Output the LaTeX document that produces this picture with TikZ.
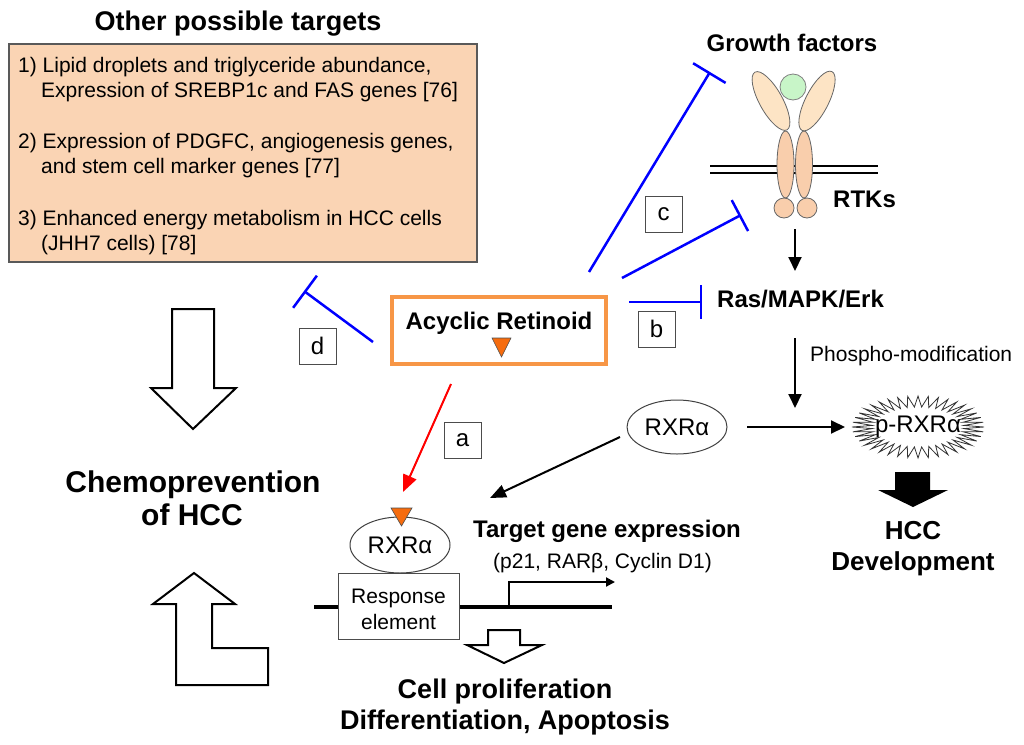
\documentclass[tikz,border=0pt]{standalone}
\usepackage{fontspec}
\setmainfont{Liberation Sans}
\usetikzlibrary{arrows.meta,shapes.geometric}
\definecolor{peach}{RGB}{250,212,180}
\definecolor{ringorange}{RGB}{247,150,70}
\definecolor{triorange}{RGB}{246,108,14}
\definecolor{rtkup}{RGB}{253,228,197}
\definecolor{rtklow}{RGB}{249,206,172}
\definecolor{gfgreen}{RGB}{200,245,200}
\definecolor{bline}{RGB}{0,0,255}
\tikzset{
  rt/.style={font=\fontsize{#1}{#1}\selectfont, inner sep=0pt},
  bt/.style={font=\fontsize{#1}{#1}\selectfont\bfseries, inner sep=0pt},
  inh/.style={draw=bline, line width=2.5pt, -{Bar[width=#1,line width=2.5pt]}},
  arr/.style={draw=black, line width=2pt, -{Triangle[length=14pt,width=13pt]}},
  redarr/.style={draw=red, line width=2pt, -{Triangle[length=17pt,width=14pt]}},
  lab/.style={draw=gray!60!black, fill=white, line width=1pt, minimum width=37pt, minimum height=36pt, inner sep=0pt, font=\fontsize{24}{24}\selectfont},
  hollow/.style={draw=black, line width=2pt, fill=white, line join=miter},
  oval/.style={draw=black!75, line width=1pt, ellipse, inner sep=0pt, font=\fontsize{24}{24}\selectfont},
  tri/.style={fill=triorange, draw=black!70, line width=0.6pt},
  rtk/.style={draw=black!60, line width=0.8pt, ellipse, inner sep=0pt},
}
\begin{document}
\begin{tikzpicture}[x=1pt,y=-1pt]
\useasboundingbox (0,0) rectangle (1024,744);

% ---- other possible targets
\node[bt=27, anchor=base] (opt) at (238,30) {Other possible targets};
\node[draw=black!65, line width=1.2pt, fill=peach, minimum width=468pt, minimum height=218pt, inner sep=0pt] (obox) at (243,153) {};
\node[rt=21, anchor=base west] (o1) at (18,72) {1) Lipid droplets and triglyceride abundance,};
\node[rt=21, anchor=base west] (o2) at (41,97) {Expression of SREBP1c and FAS genes [76]};
\node[rt=21, anchor=base west] (o3) at (18,148) {2) Expression of PDGFC, angiogenesis genes,};
\node[rt=21, anchor=base west] (o4) at (41,173) {and stem cell marker genes [77]};
\node[rt=21, anchor=base west] (o5) at (18,225) {3) Enhanced energy metabolism in HCC cells};
\node[rt=21, anchor=base west] (o6) at (41,250) {(JHH7 cells) [78]};

% ---- receptor
\draw[line width=2pt] (710,166) -- (878,166) (710,173) -- (878,173);
\node[rtk, fill=rtklow, minimum width=17pt, minimum height=67pt] (low1) at (785.5,164.5) {};
\node[rtk, fill=rtklow, minimum width=17pt, minimum height=67pt] (low2) at (804,164.5) {};
\node[rtk, fill=rtklow, minimum width=20pt, minimum height=20pt] (kin1) at (784,208) {};
\node[rtk, fill=rtklow, minimum width=20pt, minimum height=20pt] (kin2) at (807,208) {};
\node[rtk, fill=rtkup, minimum width=23pt, minimum height=66pt, rotate=29] (up1) at (771,101) {};
\node[rtk, fill=rtkup, minimum width=23pt, minimum height=66pt, rotate=-27] (up2) at (817,101) {};
\node[draw=black!50, line width=0.8pt, circle, fill=gfgreen, minimum size=26pt, inner sep=0pt] (gf) at (793,87) {};

\node[bt=24, anchor=base] (gft) at (792,51) {Growth factors};
\node[bt=24, anchor=base west] (rtks) at (833,207) {RTKs};
\node[bt=24, anchor=base west] (ras) at (717,307) {Ras/MAPK/Erk};
\node[rt=21, anchor=base west] (phos) at (810,361) {Phospho-modification};

\coordinate (rtkout) at (795,229);
\coordinate (rasin) at (795,271);
\draw[arr] (rtkout) -- (rasin);
\coordinate (rasout) at (795,338);
\coordinate (phosin) at (795,408);
\draw[arr] (rasout) -- (phosin);

% ---- acyclic retinoid
\node[draw=ringorange, line width=4pt, minimum width=214pt, minimum height=67pt, inner sep=0pt] (ar) at (499,330.5) {};
\node[bt=24, anchor=base] (art) at (499,329) {Acyclic Retinoid};
\draw[tri] (492,338) -- (511,338) -- (501.5,357) -- cycle;

% ---- inhibitions
\coordinate (cu1) at (589,272); \coordinate (cu2) at (710,72);
\draw[inh=38pt] (cu1) -- (cu2);
\coordinate (cl1) at (622,278); \coordinate (cl2) at (741,215);
\draw[inh=35pt] (cl1) -- (cl2);
\coordinate (b1) at (629,302); \coordinate (b2) at (702,302);
\draw[inh=34pt] (b1) -- (b2);
\coordinate (d1) at (373,342); \coordinate (d2) at (304,291);
\draw[inh=40pt] (d1) -- (d2);

\node[lab] (lc) at (663.5,214) {c};
\node[lab] (lb) at (656.5,329) {b};
\node[lab] (ld) at (317.5,346) {d};
\node[lab] (la) at (462.5,440) {a};

% ---- red arrow
\coordinate (rs) at (451,384); \coordinate (rend) at (403,492);
\draw[redarr] (rs) -- (rend);

% ---- chemoprevention
\draw[hollow] (172,309) -- (214,309) -- (214,388) -- (236,388) -- (193,429) -- (151,388) -- (172,388) -- cycle;
\node[bt=30, anchor=base] (chem1) at (193,492) {Chemoprevention};
\node[bt=30, anchor=base] (chem2) at (192,525) {of HCC};
\draw[hollow] (176,604) -- (153,604) -- (194,573) -- (235,604) -- (212,604) -- (212,648) -- (268,648) -- (268,685) -- (176,685) -- cycle;

% ---- RXR / p-RXR
\node[oval, minimum width=100pt, minimum height=54pt] (rxr1) at (677,427) {RXRα};
\coordinate (rxrout) at (747,427); \coordinate (pin) at (845,427);
\draw[arr] (rxrout) -- (pin);
\draw[line width=0.8pt, draw=black!80, fill=white] plot[samples=81, domain=0:360, variable=\t] ({918+(56+10*cos(40*\t))*cos(\t)}, {427+(25.5+5.5*cos(40*\t))*sin(\t)}) -- cycle;
\node[rt=24] (prxr) at (918,427) {p-RXRα};

\fill[black] (895,472) -- (930,472) -- (930,490) -- (948,490) -- (913,507) -- (878,490) -- (895,490) -- cycle;
\node[bt=26, anchor=base] (hcc1) at (913,539) {HCC};
\node[bt=26, anchor=base] (hcc2) at (913,570) {Development};

% ---- gene expression
\coordinate (rxr1out) at (620,437); \coordinate (tgin) at (490,498);
\draw[arr, -{Triangle[length=16pt,width=13pt]}] (rxr1out) -- (tgin);
\draw[line width=3.5pt] (314,607) -- (612,607);
\node[draw=black!70, line width=1pt, fill=white, minimum width=121pt, minimum height=66pt, inner sep=0pt] (resp) at (398.5,606) {};
\node[rt=21, anchor=base] (ret1) at (398.5,603) {Response};
\node[rt=21, anchor=base] (ret2) at (398.5,629) {element};
\node[oval, minimum width=100pt, minimum height=56pt, fill=white] (rxr2) at (400,545) {RXRα};
\draw[tri] (391,508) -- (412,508) -- (401.5,526) -- cycle;

\coordinate (tss) at (509,607); \coordinate (tsend) at (615,582);
\draw[line width=2pt, -{Triangle[length=9pt,width=9pt]}] (tss) |- (tsend);

\node[bt=24, anchor=base west] (tge) at (473,537) {Target gene expression};
\node[rt=21, anchor=base west] (tgl) at (493,568) {(p21, RARβ, Cyclin D1)};

\draw[hollow] (488,630) -- (520,630) -- (520,645) -- (542,645) -- (504,663) -- (467,645) -- (488,645) -- cycle;
\node[bt=27, anchor=base] (cp1) at (505,698) {Cell proliferation};
\node[bt=27, anchor=base] (cp2) at (505,729) {Differentiation, Apoptosis};
\end{tikzpicture}
\end{document}
